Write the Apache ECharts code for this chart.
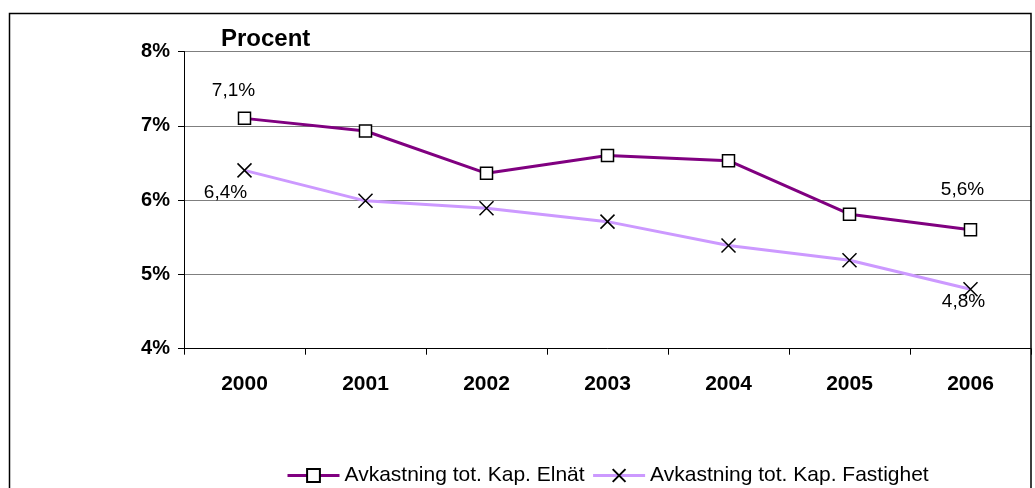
<!DOCTYPE html>
<html>
<head>
<meta charset="utf-8">
<script src="https://cdn.jsdelivr.net/npm/echarts@6/dist/echarts.min.js"></script>
<style>
  html, body { margin: 0; padding: 0; background: #fff; }
  #chart { width: 1035px; height: 488px; }
</style>
</head>
<body>
<div id="chart"></div>
<script>
// Return on total capital, per year (percent)
const years = ['2000', '2001', '2002', '2003', '2004', '2005', '2006'];
const elnat = [7.1, 6.93, 6.36, 6.6, 6.53, 5.81, 5.6];
const fastighet = [6.4, 5.99, 5.89, 5.71, 5.39, 5.19, 4.8];
const yTicks = [4, 5, 6, 7, 8];
const seriesNames = ['Avkastning tot. Kap. Elnät', 'Avkastning tot. Kap. Fastighet'];

const FONT = 'Liberation Sans, Arial, sans-serif';
const fmt = v => v.toFixed(1).replace('.', ',') + '%';

// Value labels shown only on the first and last points
function withLabels(values, labelCfg) {
  return values.map((v, i) => {
    const cfg = labelCfg[i];
    if (!cfg) return v;
    return {
      value: v,
      label: {
        show: true,
        position: cfg.position,
        offset: cfg.offset,
        formatter: p => fmt(p.value),
        fontFamily: FONT,
        fontSize: 19,
        color: '#000'
      }
    };
  });
}

const chart = echarts.init(document.getElementById('chart'), null, { renderer: 'canvas' });

chart.setOption({
  animation: false,
  backgroundColor: '#fff',
  title: {
    text: 'Procent',
    left: 216,
    top: 22,
    textStyle: { fontFamily: FONT, fontSize: 24, fontWeight: 'bold', color: '#000' }
  },
  graphic: [{
    type: 'rect',
    shape: { x: 9.5, y: 13.5, width: 1021.5, height: 490 },
    style: { fill: 'none', stroke: '#000', lineWidth: 1.5 },
    silent: true,
    z: 100
  }],
  legend: {
    left: 281,
    top: 460,
    itemWidth: 52,
    itemHeight: 16,
    itemGap: 7,
    lineStyle: { width: 3 },
    textStyle: { fontFamily: FONT, fontSize: 21, color: '#000' },
    data: seriesNames
  },
  grid: { left: 184, right: 4, top: 51.5, bottom: 139.3 },
  xAxis: {
    type: 'category',
    data: years,
    boundaryGap: true,
    axisLine: { lineStyle: { color: '#000', width: 1 } },
    axisTick: { show: true, length: 6, lineStyle: { color: '#000' } },
    axisLabel: { margin: 25, fontFamily: FONT, fontSize: 21, fontWeight: 'bold', color: '#000' }
  },
  yAxis: {
    type: 'value',
    min: yTicks[0],
    max: yTicks[yTicks.length - 1],
    interval: 1,
    axisLine: { show: true, lineStyle: { color: '#000', width: 1 } },
    axisTick: { show: true, length: 6, lineStyle: { color: '#000' } },
    splitLine: { show: true, lineStyle: { color: '#7f7f7f', width: 1.2 } },
    axisLabel: {
      margin: 14,
      formatter: '{value}%',
      fontFamily: FONT, fontSize: 20, fontWeight: 'bold', color: '#000'
    }
  },
  series: [
    {
      name: seriesNames[0],
      type: 'line',
      data: withLabels(elnat, {
        0: { position: 'top', offset: [-11, -6] },
        6: { position: 'top', offset: [-8, -19] }
      }),
      symbol: 'rect',
      symbolSize: 12,
      showAllSymbol: true,
      lineStyle: { color: '#800080', width: 3 },
      itemStyle: { color: '#fff', borderColor: '#000', borderWidth: 1.5 },
      z: 3
    },
    {
      name: seriesNames[1],
      type: 'line',
      data: withLabels(fastighet, {
        0: { position: 'bottom', offset: [-19, 0] },
        6: { position: 'bottom', offset: [-7, -10] }
      }),
      symbol: 'path://M0,0L10,10M0,10L10,0',
      symbolSize: 14,
      showAllSymbol: true,
      lineStyle: { color: '#cc99ff', width: 3 },
      itemStyle: { color: 'rgba(0,0,0,0)', borderColor: '#000', borderWidth: 1.5 },
      z: 2
    }
  ]
});
</script>
</body>
</html>
